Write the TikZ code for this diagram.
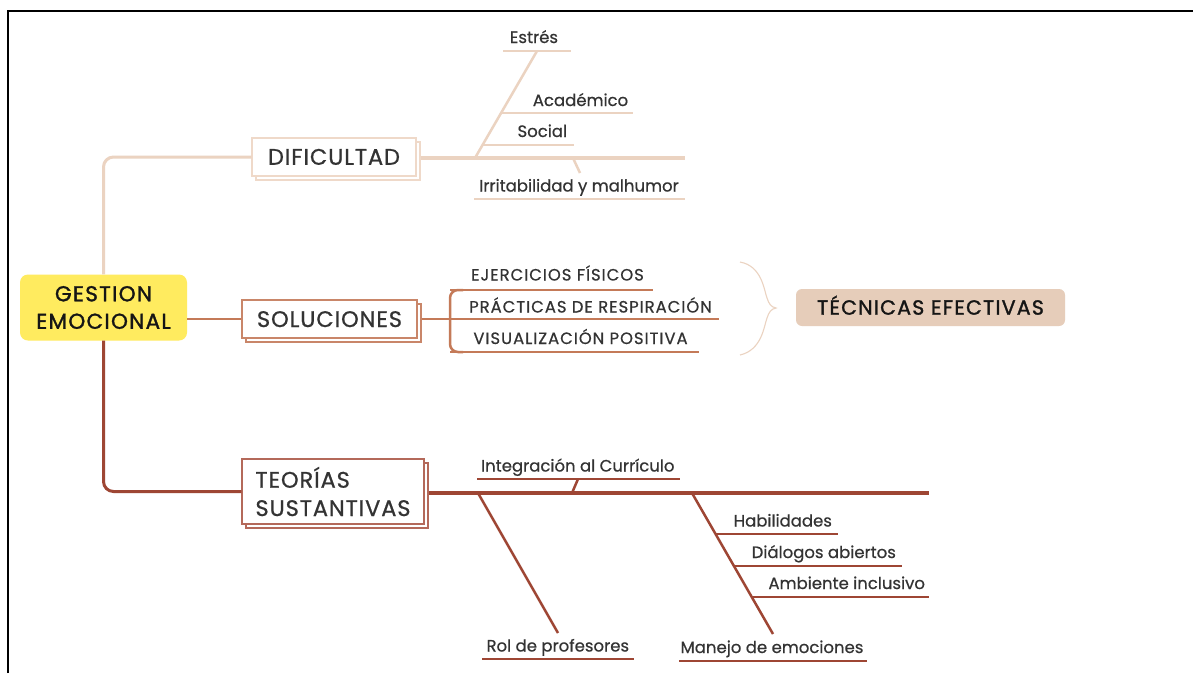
\documentclass[tikz,border=0pt]{standalone}
\usepackage{fontspec}
\setmainfont{Poppins}
\newfontfamily\lblfont{Poppins}[FakeBold=0.6]
\newfontfamily\capfont{Poppins}[LetterSpace=6, FakeBold=0.6]
\newfontfamily\boxfont{Poppins}[LetterSpace=4, FakeBold=0.8]
\newfontfamily\heavyfont{Poppins}[LetterSpace=6, FakeBold=1.4]
\usetikzlibrary{shadows}
\definecolor{beigeL}{HTML}{EBD3C1}
\definecolor{beigeB}{HTML}{EFD9C9}
\definecolor{rust}{HTML}{C47A58}
\definecolor{rustB}{HTML}{C98669}
\definecolor{maroon}{HTML}{9E4634}
\definecolor{maroonB}{HTML}{B4695A}
\definecolor{gold}{HTML}{FFEB5F}
\definecolor{tanfill}{HTML}{E6CDBA}
\definecolor{ink}{HTML}{333333}
\definecolor{inkdark}{HTML}{151515}
\begin{document}
\begin{tikzpicture}[x=1pt,y=-1pt,
  lbl/.style={font=\lblfont\fontsize{16.5}{20}\selectfont, text=ink, inner sep=0pt, anchor=base},
  caplbl/.style={font=\capfont\fontsize{16.4}{20}\selectfont, text=ink, inner sep=0pt, anchor=base},
  topicbox/.style={draw=#1, fill=white, line width=1.3pt, inner sep=2pt,
     copy shadow={shadow xshift=4pt, shadow yshift=-4pt},
     font=\boxfont\fontsize{22.5}{28}\selectfont, text=ink},
  ul/.style={line width=1.6pt},
  bone/.style={line width=2.5pt},
  spine/.style={line width=3.3pt},
  trunk/.style={line width=3pt, rounded corners=10pt},
]
\useasboundingbox (0,0) rectangle (1193,673);
\fill[white] (0,0) rectangle (1193,673);
% frame
\draw[black, line width=2pt] (8,673) -- (8,11) -- (1193,11);

% main nodes
\node[fill=gold, rounded corners=8pt, minimum width=167pt, minimum height=66pt, align=center,
      font=\heavyfont\fontsize{21.5}{27.5}\selectfont, text=inkdark, inner sep=0pt] (gest) at (103.5,307.5) {GESTION\\EMOCIONAL};
\node[topicbox=beigeB, minimum width=164pt, minimum height=38pt, text height=15.5pt, text depth=0pt] (dif) at (334,157) {DIFICULTAD};
\node[topicbox=rustB, minimum width=175pt, minimum height=38pt, text height=16pt, text depth=0pt] (sol) at (329.5,319) {SOLUCIONES};
\node[topicbox=maroonB, minimum width=182pt, minimum height=65pt, align=left,
      font=\boxfont\fontsize{22.5}{28.3}\selectfont] (teo) at (333,491.5) {TEORÍAS\\SUSTANTIVAS};
\node[fill=tanfill, rounded corners=6pt, minimum width=269pt, minimum height=37pt,
      font=\heavyfont\fontsize{20.5}{24}\selectfont, text=inkdark, text height=14.3pt, text depth=0pt] (tec) at (930.5,307.5) {TÉCNICAS EFECTIVAS};

% trunk connectors
\draw[beigeL, trunk] (dif.west) -| (gest.north);
\draw[rust, line width=2.5pt] (gest.east |- sol.west) -- (sol.west);
\draw[maroon, trunk] (gest.south) |- (teo.west);

% ---------- DIFICULTAD fishbone ----------
\coordinate (dS) at ([xshift=4pt]dif.east);
\coordinate (dE) at (685,158);
\draw[beigeL, spine] (dS |- dE) -- (dE);
\coordinate (e0) at (475,158);
\coordinate (e1) at (537,51);
\draw[beigeL, bone] (e0) -- (e1);
\node[lbl] (estres) at (534,43) {Estrés};
\node[lbl] (acad) at (580.5,106) {Académico};
\node[lbl] (social) at (542.3,137) {Social};
\node[lbl] (irrit) at (579,191.5) {Irritabilidad y malhumor};
\draw[beigeL, ul] (503,51) -- (571,51);
\draw[beigeL, ul] (501,113) -- (633,113);
\draw[beigeL, ul] (483,145) -- (574,145);
\coordinate (i0) at (573,158);
\coordinate (i1) at (580,173);
\draw[beigeL, bone] (i0) -- (i1);
\draw[beigeL, ul] (474,199) -- (685,199);

% ---------- SOLUCIONES ----------
\coordinate (bk) at (450,319);
\draw[rust, line width=2.5pt] ([xshift=4pt]sol.east) -- (bk);
\draw[rust, line width=2.5pt, rounded corners=8pt] (463,290) -- (450,290) -- (450,352) -- (463,352);
\node[caplbl] (ejer) at (557.5,280.5) {EJERCICIOS FÍSICOS};
\node[caplbl] (prac) at (590.5,312.5) {PRÁCTICAS DE RESPIRACIÓN};
\node[caplbl] (visu) at (580.5,344) {VISUALIZACIÓN POSITIVA};
\draw[rust, ul] (450,290) -- (653,290);
\draw[rust, ul] (bk) -- (719,319);
\draw[rust, ul] (450,352) -- (699,352);
% brace
\draw[beigeL, line width=1.1pt] (740,262) .. controls (762,266) and (764,290) .. (767,298)
   .. controls (769,304) and (771,307) .. (776,308)
   .. controls (771,309) and (769,312) .. (767,318)
   .. controls (764,326) and (762,350) .. (740,355);

% ---------- TEORÍAS fishbone ----------
\coordinate (tS) at ([xshift=4pt]teo.east);
\coordinate (tE) at (929,493);
\draw[maroon, spine] (tS |- tE) -- (tE);
\draw[maroon, bone] (572,493) -- (578,479);
\draw[maroon, ul] (477,479) -- (680,479);
\node[lbl] (integ) at (577.8,471.5) {Integración al Currículo};
\draw[maroon, bone] (478,493) -- (558,633);
\draw[maroon, ul] (482,659) -- (634,659);
\node[lbl] (rol) at (557.8,651.5) {Rol de profesores};
\draw[maroon, bone] (692,493) -- (773,634);
\draw[maroon, ul] (679,661) -- (867,661);
\node[lbl] (manejo) at (772,653) {Manejo de emociones};
\draw[maroon, ul] (716,534) -- (838,534);
\node[lbl] (habil) at (782.8,526.5) {Habilidades};
\draw[maroon, ul] (734,566) -- (902,566);
\node[lbl] (dialog) at (823.8,558) {Diálogos abiertos};
\draw[maroon, ul] (752,597) -- (929,597);
\node[lbl] (amb) at (846.7,589) {Ambiente inclusivo};
\end{tikzpicture}
\end{document}
